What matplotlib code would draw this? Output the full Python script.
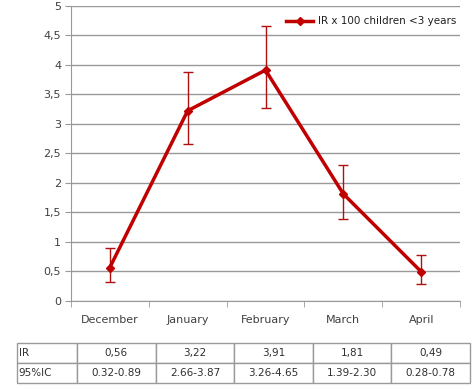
import matplotlib
matplotlib.use("Agg")
import matplotlib.pyplot as plt

# Data
months = ["December", "January", "February", "March", "April"]
ir = [0.56, 3.22, 3.91, 1.81, 0.49]
ci_low = [0.32, 2.66, 3.26, 1.39, 0.28]
ci_high = [0.89, 3.87, 4.65, 2.30, 0.78]
ir_labels = ["0,56", "3,22", "3,91", "1,81", "0,49"]
ci_labels = ["0.32-0.89", "2.66-3.87", "3.26-4.65", "1.39-2.30", "0.28-0.78"]
yticks = [0, 0.5, 1, 1.5, 2, 2.5, 3, 3.5, 4, 4.5, 5]
ytick_labels = ["0", "0,5", "1", "1,5", "2", "2,5", "3", "3,5", "4", "4,5", "5"]

red = "#C00000"
grid_col = "#999999"
text_col = "#404040"

fig = plt.figure(figsize=(4.72, 3.89), dpi=100)
ax = fig.add_axes([0.150, 0.227, 0.825, 0.758])

x = list(range(len(months)))
yerr = [[v - lo for v, lo in zip(ir, ci_low)], [hi - v for v, hi in zip(ir, ci_high)]]
ax.errorbar(x, ir, yerr=yerr, fmt="none", ecolor="#B01010", elinewidth=1, capsize=3.5, capthick=1, zorder=3)
ax.plot(x, ir, color=red, lw=2.5, marker="D", markersize=4.5, label="IR x 100 children <3 years", zorder=4)

ax.set_xlim(-0.5, len(months) - 0.5)
ax.set_ylim(0, 5)
ax.set_yticks(yticks)
ax.set_yticklabels(ytick_labels)
ax.set_xticks(x)
ax.set_xticklabels(months)
ax.set_xticks([i - 0.5 for i in range(len(months) + 1)], minor=True)
ax.tick_params(axis="x", which="major", length=0, pad=10, labelsize=8, labelcolor=text_col)
ax.tick_params(axis="x", which="minor", length=4, color=grid_col, direction="out")
ax.tick_params(axis="y", length=4, color=grid_col, labelsize=8, labelcolor=text_col, pad=3)
ax.yaxis.grid(True, color=grid_col, lw=1)
ax.set_axisbelow(True)
for s in ["top", "right"]:
    ax.spines[s].set_visible(False)
ax.spines["left"].set_color(grid_col)
ax.spines["bottom"].set_color(grid_col)

leg = ax.legend(loc="upper right", frameon=False, fontsize=7.5, handlelength=2.6,
                handletextpad=0.4, borderaxespad=0.0, bbox_to_anchor=(1.0, 0.978))
for t in leg.get_texts():
    t.set_color("#202020")

# Table under the chart
tax = fig.add_axes([0.036, 0.0154, 0.96, 0.103])
tax.axis("off")
cells = [["IR"] + ir_labels, ["95%IC"] + ci_labels]
widths = [60] + [78.6] * len(months)
tot = sum(widths)
tbl = tax.table(cellText=cells, colWidths=[w / tot for w in widths], bbox=[0, 0, 1, 1],
                cellLoc="center")
tbl.auto_set_font_size(False)
for (r, c), cell in tbl.get_celld().items():
    cell.set_edgecolor("#9a9a9a")
    cell.set_linewidth(1)
    cell.get_text().set_fontsize(7.5)
    cell.get_text().set_color("#303030")
    if c == 0:
        cell.get_text().set_ha("left")
        cell.PAD = 0.03

fig.savefig("out.png", dpi=100)
